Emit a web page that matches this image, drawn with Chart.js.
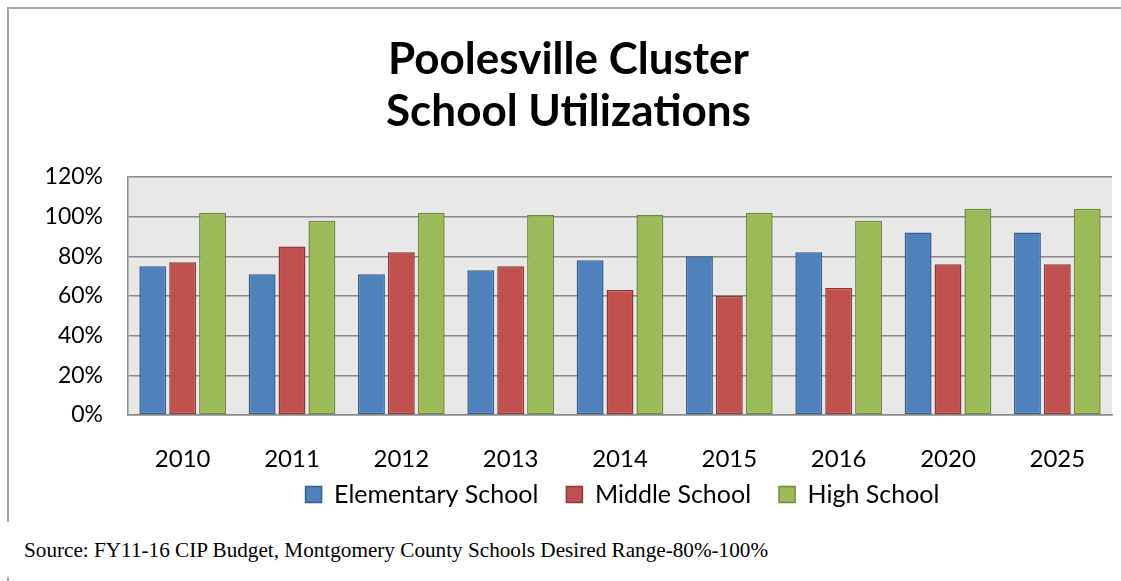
<!DOCTYPE html>
<html>
<head>
<meta charset="utf-8">
<script src="https://cdn.jsdelivr.net/npm/chart.js@4.4.0/dist/chart.umd.min.js"></script>
<style>
  body { margin: 0; background: #fff; width: 1121px; height: 581px; overflow: hidden; position: relative; }
  #box { position: absolute; left: 7px; top: 7px; width: 1114px; height: 513px; border-left: 2px solid #a6a6a6; border-top: 2px solid #a6a6a6; }
  #source { position: absolute; left: 24px; top: 540px; line-height: 21px; font-family: "Liberation Serif", "Times New Roman", serif; font-size: 21.2px; color: #000; white-space: nowrap; }
  #tick { position: absolute; left: 7px; top: 577px; width: 2px; height: 4px; background: #a6a6a6; }
</style>
</head>
<body>
<div id="box"><canvas id="myChart" width="1112" height="511"></canvas></div>
<div id="source">Source: FY11-16 CIP Budget, Montgomery County Schools Desired Range-80%-100%</div>
<div id="tick"></div>
<script>
const years = ['2010', '2011', '2012', '2013', '2014', '2015', '2016', '2020', '2025'];
const elementary = [75, 71, 71, 73, 78, 80, 82, 92, 92];
const middle = [77, 85, 82, 75, 63, 60, 64, 76, 76];
const high = [102, 98, 102, 101, 101, 102, 98, 104, 104];
const yTicks = [0, 20, 40, 60, 80, 100, 120];

const font = 'Lato';

// grey plot background like the spreadsheet chart
const plotBg = {
    id: 'plotBg',
    beforeDraw(chart) {
        const a = chart.chartArea;
        const ctx = chart.ctx;
        ctx.save();
        ctx.fillStyle = '#e8e8e8';
        ctx.fillRect(a.left, a.top, a.right - a.left, a.bottom - a.top);
        ctx.restore();
    }
};

// legend/title sit a bit right of centre; x labels may spill below the squeezed axis box
const layoutTweaks = {
    id: 'layoutTweaks',
    afterLayout(chart) {
        chart.legend.left += 62;
        chart.legend.right += 62;
        chart.titleBlock.left += 8;
        chart.titleBlock.right += 8;
        chart.scales.x.bottom = chart.height;
    }
};

function bars(label, data, fill, edge) {
    return {
        label: label,
        data: data,
        backgroundColor: fill,
        borderColor: edge,
        borderWidth: 1.5,
        borderSkipped: false,
        barPercentage: 0.9,
        categoryPercentage: 0.82
    };
}

const config = {
    type: 'bar',
    data: {
        labels: years,
        datasets: [
            bars('Elementary School', elementary, '#4f81bd', '#385d8a'),
            bars('Middle School', middle, '#c0504d', '#8c3836'),
            bars('High School', high, '#9bbb59', '#71893f')
        ]
    },
    options: {
        responsive: false,
        animation: false,
        layout: { padding: { left: 0, right: 9, top: 0, bottom: 3 } },
        plugins: {
            title: {
                display: true,
                text: ['Poolesville Cluster', 'School Utilizations'],
                color: '#000',
                font: { family: font, size: 44, weight: 'bold', lineHeight: 1.2 },
                padding: { top: 24, bottom: 38.4 }
            },
            legend: {
                position: 'bottom',
                labels: {
                    color: '#000',
                    font: { family: font, size: 25 },
                    boxWidth: 16,
                    boxHeight: 16,
                    padding: 28
                }
            },
            tooltip: { enabled: false }
        },
        scales: {
            x: {
                afterFit(scale) { scale.height = 39; },
                grid: { display: false, drawTicks: false },
                border: { color: '#8a8a8a', width: 1.5 },
                ticks: { color: '#000', font: { family: font, size: 24 }, padding: 30 }
            },
            y: {
                min: 0,
                max: 120,
                afterBuildTicks(scale) { scale.ticks = yTicks.map(v => ({ value: v })); },
                afterFit(scale) { scale.width = 119; },
                grid: { color: '#8a8a8a', lineWidth: 1.5, drawTicks: false },
                border: { color: '#8a8a8a', width: 1.5 },
                ticks: {
                    color: '#000',
                    font: { family: font, size: 23 },
                    padding: 25,
                    callback: v => v + '%'
                }
            }
        }
    },
    plugins: [plotBg, layoutTweaks]
};

new Chart(document.getElementById('myChart').getContext('2d'), config);
</script>
</body>
</html>
